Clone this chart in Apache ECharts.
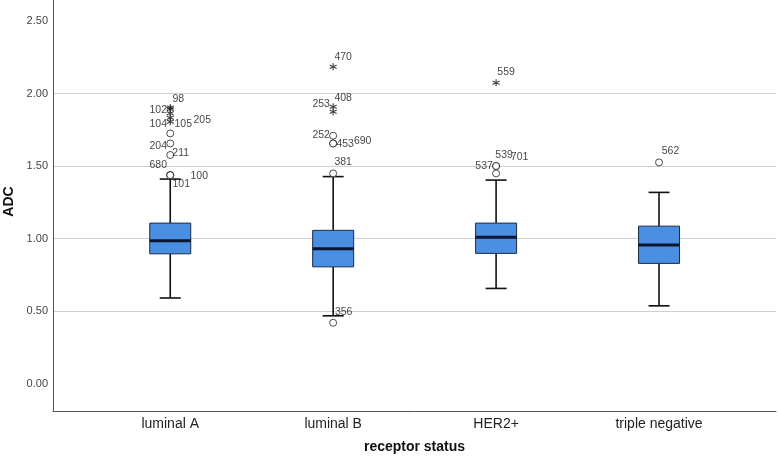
<!DOCTYPE html>
<html><head><meta charset="utf-8">
<script src="https://cdn.jsdelivr.net/npm/echarts@6/dist/echarts.min.js"></script>
<style>html,body{margin:0;padding:0;background:#fff}#c{width:778px;height:457px}</style>
</head><body><div id="c"></div>
<script>
// ---- data ----
const categories  = ['luminal A', 'luminal B', 'HER2+', 'triple negative'];
const whiskerLow  = [0.590, 0.467, 0.656, 0.536];
const q1          = [0.895, 0.805, 0.898, 0.829];
const median      = [0.985, 0.930, 1.010, 0.955];
const q3          = [1.107, 1.057, 1.107, 1.086];
const whiskerHigh = [1.411, 1.428, 1.404, 1.319];

// outliers: category index, value, kind (o = outlier, * = extreme), case id
const outlierCategory = [0, 0, 0, 0, 0, 0, 0, 0, 0, 0, 0,   1, 1, 1, 1, 1, 1, 1, 1,   2, 2, 2, 2,   3];
const outlierValue    = [1.905, 1.895, 1.865, 1.834, 1.807, 1.726, 1.657, 1.577, 1.438, 1.438, 1.438,
                         2.187, 1.910, 1.876, 1.710, 1.657, 1.657, 1.450, 0.419,
                         2.076, 1.501, 1.501, 1.450,
                         1.526];
const outlierKind     = ['*', '*', '*', '*', '*', 'o', 'o', 'o', 'o', 'o', 'o',
                         '*', '*', '*', 'o', 'o', 'o', 'o', 'o',
                         '*', 'o', 'o', 'o',
                         'o'];
const outlierId       = ['98', '102', '205', '105', '104', '', '204', '211', '680', '101', '100',
                         '470', '408', '253', '252', '453', '690', '381', '356',
                         '559', '537', '701', '539',
                         '562'];

// ---- layout (label offsets in px, not data) ----
const labelOffset = [[8, -8], [-12, 1], [32, 7], [13, 6], [-12, 2], [0, 0], [-12, 3], [10.5, -2], [-12, -10], [11, 9], [29, 1],
                     [10, -10], [10, -9], [-12, -8], [-12, -1], [12, 1], [29.5, -2], [10, -11], [10.5, -11],
                     [10, -11], [-12, 0], [23.5, -9], [8, -18],
                     [11.5, -11.5]];
const BOX_W = 41, CAP_W = 21;
const FONT = '"Liberation Sans", Arial, sans-serif';

const boxData = categories.map((c, i) => [i, whiskerLow[i], q1[i], median[i], q3[i], whiskerHigh[i]]);

function makeOutliers(kind) {
  const out = [];
  outlierValue.forEach((v, k) => {
    if (outlierKind[k] !== kind) return;
    out.push({
      value: [outlierCategory[k], v],
      name: outlierId[k],
      label: { offset: labelOffset[k] }
    });
  });
  return out;
}

function renderBox(params, api) {
  const i = api.value(0);
  const pLo = api.coord([i, api.value(1)]);
  const pQ1 = api.coord([i, api.value(2)]);
  const pMed = api.coord([i, api.value(3)]);
  const pQ3 = api.coord([i, api.value(4)]);
  const pHi = api.coord([i, api.value(5)]);
  const x = pMed[0], hb = BOX_W / 2, hc = CAP_W / 2;
  const wStyle = { stroke: '#111', lineWidth: 1.6 };
  return {
    type: 'group',
    children: [
      { type: 'line', shape: { x1: x, y1: pHi[1], x2: x, y2: pQ3[1] }, style: wStyle },
      { type: 'line', shape: { x1: x, y1: pQ1[1], x2: x, y2: pLo[1] }, style: wStyle },
      { type: 'line', shape: { x1: x - hc, y1: pHi[1], x2: x + hc, y2: pHi[1] }, style: wStyle },
      { type: 'line', shape: { x1: x - hc, y1: pLo[1], x2: x + hc, y2: pLo[1] }, style: wStyle },
      { type: 'rect', shape: { x: x - hb, y: pQ3[1], width: BOX_W, height: pQ1[1] - pQ3[1] },
        style: { fill: '#4a8fe1', stroke: '#1c2b47', lineWidth: 1 } },
      { type: 'line', shape: { x1: x - hb, y1: pMed[1], x2: x + hb, y2: pMed[1] },
        style: { stroke: '#0b1631', lineWidth: 3 } }
    ]
  };
}

const labelCommon = {
  show: true, position: 'inside', formatter: p => p.name,
  fontFamily: FONT, fontSize: 10.5, color: '#111', textBorderWidth: 0, textBorderColor: 'transparent'
};

const chart = echarts.init(document.getElementById('c'), null, { renderer: 'canvas' });
chart.setOption({
  animation: false,
  backgroundColor: '#fff',
  grid: { left: 53, right: 2, top: 0, bottom: 46, containLabel: false, outerBoundsMode: 'none' },
  xAxis: {
    type: 'value', min: -0.7196, max: 3.718,
    name: 'receptor status', nameLocation: 'middle', nameGap: 29,
    nameTextStyle: { fontFamily: FONT, fontSize: 14, fontWeight: 'bold', color: '#111' },
    axisLine: { show: true, onZero: false, lineStyle: { color: '#555', width: 1 } },
    axisTick: { show: false },
    splitLine: { show: false },
    axisLabel: {
      customValues: [0, 1, 2, 3], margin: 6,
      formatter: v => categories[Math.round(v)] || '',
      fontFamily: FONT, fontSize: 14, color: '#222'
    }
  },
  yAxis: {
    type: 'value', min: -0.19, max: 2.647,
    name: 'ADC', nameLocation: 'middle', nameGap: 37,
    nameTextStyle: { fontFamily: FONT, fontSize: 14, fontWeight: 'bold', color: '#111', padding: [0, 0, 0, 8] },
    axisLine: { show: true, onZero: false, lineStyle: { color: '#555', width: 1 } },
    splitLine: { show: true, showMinLine: false, showMaxLine: false, lineStyle: { color: '#cfcfcf', width: 1 } },
    axisLabel: {
      customValues: [0, 0.5, 1, 1.5, 2, 2.5], margin: 5,
      formatter: v => v.toFixed(2),
      fontFamily: FONT, fontSize: 11, color: '#444'
    },
    axisTick: { show: false, customValues: [0, 0.5, 1, 1.5, 2, 2.5] }
  },
  series: [
    {
      type: 'custom', renderItem: renderBox, data: boxData,
      encode: { x: 0, y: [1, 2, 3, 4, 5] }, z: 2, silent: true
    },
    {
      type: 'scatter', data: makeOutliers('o'), symbol: 'circle', symbolSize: 7,
      itemStyle: { color: '#fff', borderColor: '#222', borderWidth: 1 }, label: labelCommon, z: 3
    },
    {
      type: 'scatter', data: makeOutliers('*'),
      symbol: 'path://M5,0 L5,10 M0.67,2.5 L9.33,7.5 M0.67,7.5 L9.33,2.5', symbolSize: 7,
      itemStyle: { color: 'none', borderColor: '#111', borderWidth: 1.1 }, label: labelCommon, z: 3
    }
  ]
});
</script>
</body></html>
